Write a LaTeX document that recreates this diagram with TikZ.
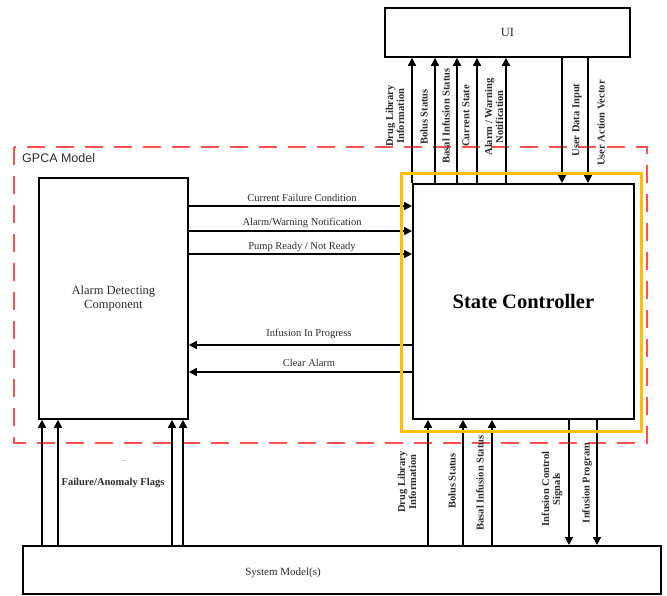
\documentclass[tikz,border=0pt]{standalone}
\usepackage{fontspec}
\setmainfont{Liberation Serif}
\newfontfamily\gsans{Liberation Sans}
\usetikzlibrary{arrows.meta,calc}
\definecolor{dashred}{RGB}{255,80,80}
\definecolor{hiyel}{RGB}{255,192,0}
\definecolor{txt}{RGB}{45,45,45}
\begin{document}
\begin{tikzpicture}[x=1pt,y=-1pt,
  box/.style={draw,line width=1.8pt,inner sep=0pt,anchor=north west,text=txt,align=center},
  arr/.style={line width=1.6pt,-{Triangle[length=8pt,width=8pt]}},
  lbl/.style={font=\fontsize{10.5}{11}\selectfont,text=txt,inner sep=0pt},
  vl/.style={font=\fontsize{10.5}{11}\bfseries\selectfont,text=txt,rotate=90,align=center,inner sep=0pt},
]
\useasboundingbox (0,0) rectangle (667,595);
% GPCA model frame
\draw[dashred,line width=1.5pt,dash pattern=on 18pt off 11pt] (14,147) rectangle (647,443);
\node[font=\gsans\fontsize{12.5}{14}\selectfont,text=txt,anchor=west,inner sep=0pt] (gpca) at (22,158) {GPCA Model};
% boxes
\node[box,minimum width=245pt,minimum height=49pt,font=\fontsize{12.5}{14}\selectfont] (ui) at (384,7) {UI};
\node[box,minimum width=149pt,minimum height=241pt,font=\fontsize{12.5}{14}\selectfont] (alarm) at (38,177) {Alarm Detecting\\Component};
\node[box,minimum width=221pt,minimum height=235pt,font=\fontsize{20.5}{24}\bfseries\selectfont,text=black] (sc) at (412,183) {State Controller};
\node[box,minimum width=638pt,minimum height=48pt] (sys) at (22,545) {};
\node[lbl,font=\fontsize{11}{12}\selectfont] (sysl) at (283,573) {System Model(s)};
% SC -> UI
\foreach \x in {412,435,457,477,506}
  \draw[arr] (\x,0 |- sc.north) -- (\x,0 |- ui.south);
% UI -> SC
\foreach \x in {562,588}
  \draw[arr] (\x,0 |- ui.south) -- (\x,0 |- sc.north);
\node[vl] (l1) at (395,116) {Drug Library\\Information};
\node[vl] (l2) at (424,117) {Bolus Status};
\node[vl] (l3) at (446,116) {Basal Infusion Status};
\node[vl] (l4) at (466,116) {Current State};
\node[vl] (l5) at (494,117) {Alarm / Warning\\Notification};
\node[vl] (l6) at (577,120) {User Data Input};
\node[vl] (l7) at (601,123) {User Action Vector};
% Alarm -> SC
\foreach \y in {206,231,254}
  \draw[arr] (alarm.east |- 0,\y) -- (sc.west |- 0,\y);
\node[lbl,anchor=base] (h1) at (302,201.5) {Current Failure Condition};
\node[lbl,anchor=base] (h2) at (302,225.5) {Alarm/Warning Notification};
\node[lbl,anchor=base] (h3) at (302,249.5) {Pump Ready / Not Ready};
% SC -> Alarm
\foreach \y in {345,372}
  \draw[arr] (sc.west |- 0,\y) -- (alarm.east |- 0,\y);
\node[lbl,anchor=base] (h4) at (309,336.5) {Infusion In Progress};
\node[lbl,anchor=base] (h5) at (309,366.5) {Clear Alarm};
% System -> SC
\foreach \x in {428,463,492}
  \draw[arr] (\x,0 |- sys.north) -- (\x,0 |- sc.south);
% SC -> System
\foreach \x in {569,597}
  \draw[arr] (\x,0 |- sc.south) -- (\x,0 |- sys.north);
\node[vl] (b1) at (407,482) {Drug Library\\Information};
\node[vl] (b2) at (452,481) {Bolus Status};
\node[vl] (b3) at (480,483) {Basal Infusion Status};
\node[vl] (b4) at (552,489) {Infusion Control\\Signals};
\node[vl] (b5) at (587,483) {Infusion Program};
% System -> Alarm
\foreach \x in {42,58,172,183}
  \draw[arr] (\x,0 |- sys.north) -- (\x,0 |- alarm.south);
\node[lbl,font=\fontsize{6}{7}\selectfont] (dots) at (124,461) {...};
\node[lbl,font=\fontsize{10.5}{12}\bfseries\selectfont] (flags) at (113,483) {Failure/Anomaly Flags};
% highlight
\draw[hiyel,line width=3pt] (401,173) rectangle (641,431);
\end{tikzpicture}
\end{document}
